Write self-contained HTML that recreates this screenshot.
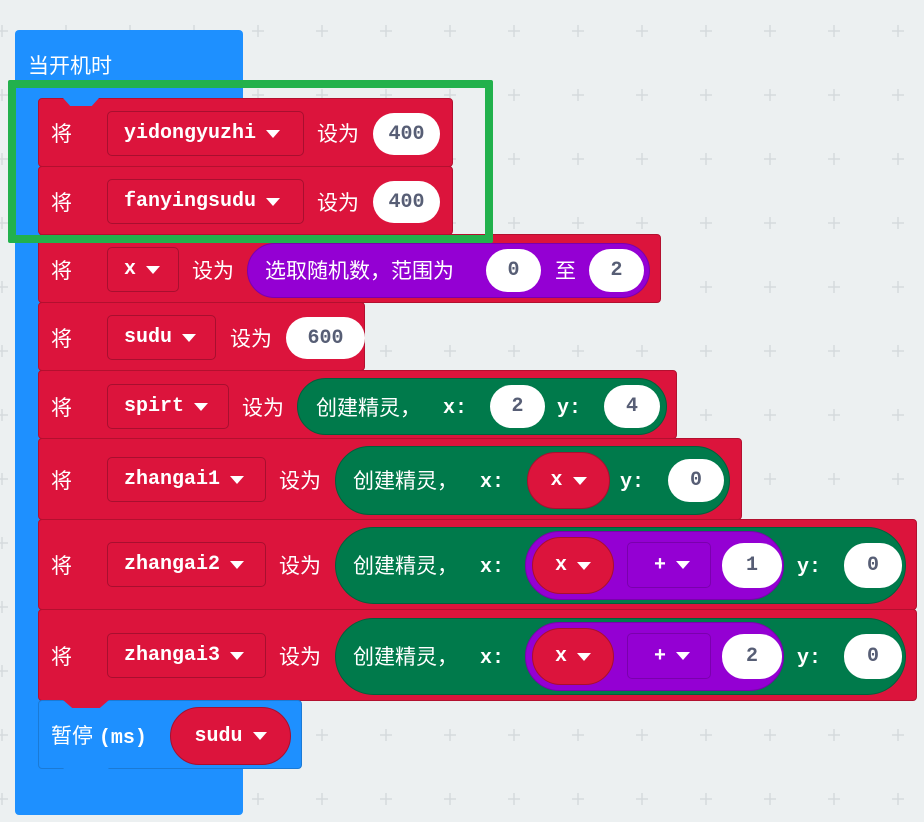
<!DOCTYPE html>
<html><head><meta charset="utf-8"><style>
*{margin:0;padding:0;box-sizing:border-box}
body{width:924px;height:822px;background:#ecf0f1;position:relative;overflow:hidden;font-family:"Liberation Mono",monospace;font-weight:bold;color:#fff}
.a{position:absolute}
.blue{background:#1e90ff;border-radius:4px}
.r{position:absolute;left:38px;background:#dc143c;border:1px solid #b3102f;border-radius:4px}
.fld{position:absolute;border:1px solid #a80f2f;border-radius:5px;display:flex;align-items:center;padding-left:16px;font-size:20px}
.tri{display:inline-block;width:0;height:0;border-left:7px solid transparent;border-right:7px solid transparent;border-top:8px solid #fff;margin-left:10px}
.w{position:absolute;background:#fff;color:#575e75;border-radius:22px;display:flex;align-items:center;justify-content:center;font-size:20px}
.t{position:absolute;font-family:"Liberation Sans","Noto Sans CJK SC",sans-serif;font-weight:normal;font-size:21px;line-height:24px;white-space:nowrap}
.l{position:absolute;font-size:20px;line-height:24px}
.pill{position:absolute;border-radius:40px}
.notch{position:absolute;width:46px;height:8px;background:#dc143c;clip-path:polygon(0 0,100% 0,80% 100%,20% 100%)}
</style></head><body>
<svg class="a" style="left:0;top:0" width="924" height="822"><defs><pattern id="g" x="-30" y="-1" width="64" height="64" patternUnits="userSpaceOnUse"><path d="M32 26v12M26 32h12" stroke="#d5dadd" stroke-width="1.5"/></pattern></defs><rect width="924" height="822" fill="url(#g)"/></svg>

<div class="a blue" style="left:15px;top:30px;width:228px;height:785px"></div>
<div class="t" style="left:28px;top:55px;font-size:21px">当开机时</div>

<!-- row 1 -->
<div class="r" style="top:98px;width:415px;height:69px"></div>
<div class="a" style="left:63px;top:98px;width:36px;height:8px;background:#1e90ff;clip-path:polygon(0 0,100% 0,80% 100%,20% 100%)"></div>
<div class="t" style="left:51px;top:123px">将</div>
<div class="fld" style="left:107px;top:111px;width:197px;height:45px">yidongyuzhi<span class="tri"></span></div>
<div class="t" style="left:317px;top:123px">设为</div>
<div class="w" style="left:373px;top:113px;width:67px;height:42px">400</div>
<!-- row 2 -->
<div class="r" style="top:166px;width:415px;height:69px"></div>
<div class="t" style="left:51px;top:192px">将</div>
<div class="fld" style="left:107px;top:179px;width:197px;height:45px">fanyingsudu<span class="tri"></span></div>
<div class="t" style="left:317px;top:192px">设为</div>
<div class="w" style="left:373px;top:181px;width:67px;height:42px">400</div>
<!-- row 3 -->
<div class="r" style="top:234px;width:623px;height:69px"></div>
<div class="t" style="left:51px;top:260px">将</div>
<div class="fld" style="left:107px;top:247px;width:72px;height:45px">x<span class="tri"></span></div>
<div class="t" style="left:192px;top:260px">设为</div>
<div class="pill" style="left:247px;top:243px;width:403px;height:55px;background:#9400d3;border:1px solid #7a00ad"></div>
<div class="t" style="left:265px;top:260px">选取随机数，范围为</div>
<div class="w" style="left:486px;top:249px;width:55px;height:43px">0</div>
<div class="t" style="left:555px;top:260px">至</div>
<div class="w" style="left:589px;top:249px;width:55px;height:43px">2</div>
<!-- row 4 -->
<div class="r" style="top:302px;width:327px;height:69px"></div>
<div class="t" style="left:51px;top:328px">将</div>
<div class="fld" style="left:107px;top:315px;width:109px;height:45px">sudu<span class="tri"></span></div>
<div class="t" style="left:230px;top:328px">设为</div>
<div class="w" style="left:286px;top:317px;width:79px;height:42px">600</div>
<!-- row 5 -->
<div class="r" style="top:370px;width:639px;height:69px"></div>
<div class="t" style="left:51px;top:397px">将</div>
<div class="fld" style="left:107px;top:384px;width:122px;height:45px">spirt<span class="tri"></span></div>
<div class="t" style="left:242px;top:397px">设为</div>
<div class="pill" style="left:297px;top:378px;width:370px;height:57px;background:#007a4b;border:1px solid #00603b"></div>
<div class="t" style="left:316px;top:397px">创建精灵，</div>
<div class="l" style="left:443px;top:397px">x:</div>
<div class="w" style="left:490px;top:385px;width:55px;height:43px">2</div>
<div class="l" style="left:557px;top:397px">y:</div>
<div class="w" style="left:604px;top:385px;width:56px;height:43px">4</div>
<!-- row 6 -->
<div class="r" style="top:438px;width:704px;height:82px"></div>
<div class="t" style="left:51px;top:470px">将</div>
<div class="fld" style="left:107px;top:457px;width:159px;height:45px">zhangai1<span class="tri"></span></div>
<div class="t" style="left:279px;top:470px">设为</div>
<div class="pill" style="left:335px;top:446px;width:395px;height:69px;background:#007a4b;border:1px solid #00603b"></div>
<div class="t" style="left:353px;top:470px">创建精灵，</div>
<div class="l" style="left:480px;top:471px">x:</div>
<div class="pill" style="left:527px;top:452px;width:83px;height:57px;background:#dc143c;border:1px solid #a80f2f;display:flex;align-items:center;justify-content:center;font-size:20px">x<span class="tri"></span></div>
<div class="l" style="left:620px;top:471px">y:</div>
<div class="w" style="left:668px;top:459px;width:56px;height:43px">0</div>
<!-- row 7 -->
<div class="r" style="top:519px;width:879px;height:91px"></div>
<div class="t" style="left:51px;top:555px">将</div>
<div class="fld" style="left:107px;top:542px;width:159px;height:45px">zhangai2<span class="tri"></span></div>
<div class="t" style="left:279px;top:555px">设为</div>
<div class="pill" style="left:335px;top:527px;width:571px;height:77px;background:#007a4b;border:1px solid #00603b"></div>
<div class="t" style="left:353px;top:555px">创建精灵，</div>
<div class="l" style="left:480px;top:556px">x:</div>
<div class="pill" style="left:525px;top:531px;width:259px;height:69px;background:#9400d3;border:1px solid #7a00ad"></div>
<div class="pill" style="left:532px;top:537px;width:82px;height:57px;background:#dc143c;border:1px solid #a80f2f;display:flex;align-items:center;justify-content:center;font-size:20px">x<span class="tri"></span></div>
<div class="fld" style="left:627px;top:542px;width:84px;height:46px;border-color:#7a00ad;padding-left:26px">+<span class="tri"></span></div>
<div class="w" style="left:722px;top:543px;width:60px;height:45px">1</div>
<div class="l" style="left:797px;top:556px">y:</div>
<div class="w" style="left:844px;top:543px;width:58px;height:45px">0</div>
<!-- row 8 -->
<div class="r" style="top:609px;width:879px;height:92px"></div>
<div class="t" style="left:51px;top:646px">将</div>
<div class="fld" style="left:107px;top:633px;width:159px;height:45px">zhangai3<span class="tri"></span></div>
<div class="t" style="left:279px;top:646px">设为</div>
<div class="pill" style="left:335px;top:618px;width:571px;height:77px;background:#007a4b;border:1px solid #00603b"></div>
<div class="t" style="left:353px;top:646px">创建精灵，</div>
<div class="l" style="left:480px;top:647px">x:</div>
<div class="pill" style="left:525px;top:622px;width:259px;height:69px;background:#9400d3;border:1px solid #7a00ad"></div>
<div class="pill" style="left:532px;top:628px;width:82px;height:57px;background:#dc143c;border:1px solid #a80f2f;display:flex;align-items:center;justify-content:center;font-size:20px">x<span class="tri"></span></div>
<div class="fld" style="left:627px;top:633px;width:84px;height:46px;border-color:#7a00ad;padding-left:26px">+<span class="tri"></span></div>
<div class="w" style="left:722px;top:634px;width:60px;height:45px">2</div>
<div class="l" style="left:797px;top:647px">y:</div>
<div class="w" style="left:844px;top:634px;width:58px;height:45px">0</div>
<!-- pause -->
<div class="a blue" style="left:38px;top:700px;width:264px;height:69px;border:1px solid #1a7ad6"></div>
<div class="notch" style="left:63px;top:700px"></div>
<div class="t" style="left:51px;top:725px">暂停 <span style="font-family:'Liberation Mono',monospace;font-weight:bold;font-size:20px">(ms)</span></div>
<div class="pill" style="left:170px;top:707px;width:121px;height:58px;background:#dc143c;border:1px solid #a80f2f;display:flex;align-items:center;justify-content:center;font-size:20px">sudu<span class="tri"></span></div>
<div class="a" style="left:63px;top:768px;width:46px;height:8px;background:#1e90ff;clip-path:polygon(0 0,100% 0,80% 100%,20% 100%)"></div>

<!-- green highlight -->
<div class="a" style="left:8px;top:80px;width:485px;height:163px;border:8px solid #22b14c;border-radius:2px"></div>
</body></html>
